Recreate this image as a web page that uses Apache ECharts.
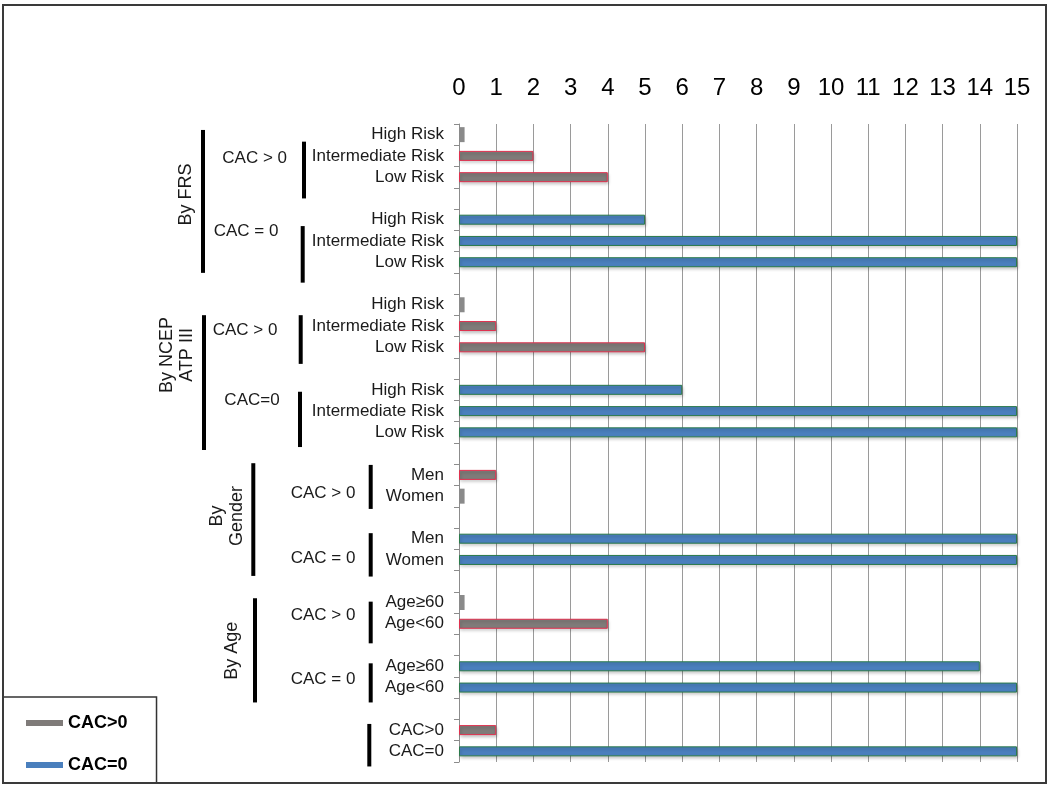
<!DOCTYPE html>
<html><head><meta charset="utf-8">
<script src="https://cdn.jsdelivr.net/npm/echarts@6/dist/echarts.min.js"></script>
<style>html,body{margin:0;padding:0;background:#fff}#c{width:1050px;height:793px}</style>
</head><body><div id="c"></div>
<script>
// Rows, top to bottom ('' = spacer rows)
const categories = [
  'High Risk','Intermediate Risk','Low Risk','',
  'High Risk','Intermediate Risk','Low Risk','',
  'High Risk','Intermediate Risk','Low Risk','',
  'High Risk','Intermediate Risk','Low Risk','',
  'Men','Women','',
  'Men','Women','',
  'Age≥60','Age<60','',
  'Age≥60','Age<60','',
  'CAC>0','CAC=0'
];
const cacPositive = [
  null,2,4,null,
  null,null,null,null,
  null,1,5,null,
  null,null,null,null,
  1,null,null,
  null,null,null,
  null,4,null,
  null,null,null,
  1,null
];
const cacZero = [
  null,null,null,null,
  5,15,15,null,
  null,null,null,null,
  6,15,15,null,
  null,null,null,
  15,15,null,
  null,null,null,
  14,15,null,
  null,15
];
// very small CAC>0 values drawn as stubs
const cacPositiveSmall = [
  0.15,null,null,null,
  null,null,null,null,
  0.15,null,null,null,
  null,null,null,null,
  null,0.15,null,
  null,null,null,
  0.15,null,null,
  null,null,null,
  null,null
];
const xTicks = [0,1,2,3,4,5,6,7,8,9,10,11,12,13,14,15];
const seriesNames = ['CAC>0','CAC=0'];

// Group annotations: [text, x, row position, rotated]
const groupLabels = [
  ['By FRS', 186, 2.81, true],
  ['By NCEP\nATP III', 177, 10.36, true],
  ['By\nGender', 227, 17.93, true],
  ['By Age', 232.5, 24.27, true],
  ['CAC > 0', 254.7, 1.1, false],
  ['CAC = 0', 246, 4.56, false],
  ['CAC > 0', 245, 9.18, false],
  ['CAC=0', 252, 12.48, false],
  ['CAC > 0', 323, 16.87, false],
  ['CAC = 0', 323, 19.92, false],
  ['CAC > 0', 323, 22.58, false],
  ['CAC = 0', 323, 25.6, false]
];
// Brackets: [x, row start, row end]
const brackets = [
  [203, -0.22, 6.5],
  [304, 0.33, 3.0],
  [302.7, 4.3, 6.96],
  [204, 8.49, 14.83],
  [300.7, 8.49, 10.78],
  [300, 12.09, 14.69],
  [253.3, 15.45, 20.75],
  [370.7, 15.53, 17.6],
  [370.7, 18.74, 20.78],
  [255, 21.8, 26.7],
  [370.7, 21.96, 23.92],
  [370.7, 24.86, 26.7],
  [369.3, 27.71, 29.71]
];

const FONT = '"Liberation Sans", Arial, sans-serif';
const chart = echarts.init(document.getElementById('c'), null, {renderer: 'canvas'});
const barShadow = {shadowColor: 'rgba(0,0,0,0.22)', shadowBlur: 3, shadowOffsetX: 1, shadowOffsetY: 2};

chart.setOption({
  animation: false,
  backgroundColor: '#fff',
  grid: {left: 459, right: 33, top: 124, bottom: 31, containLabel: false, outerBoundsMode: 'none'},
  xAxis: {
    type: 'value', position: 'top', min: 0, max: 15, interval: 1,
    axisLine: {show: false}, axisTick: {show: false},
    axisLabel: {
      show: true, margin: 24, fontSize: 24, color: '#000',
      fontFamily: '"Liberation Sans Narrow", "Liberation Sans", Arial, sans-serif',
      formatter: v => xTicks.indexOf(v) >= 0 ? String(v) : ''
    },
    splitLine: {show: true, lineStyle: {color: '#9a9a9a', width: 1}}
  },
  yAxis: [{
    type: 'category', inverse: true, data: categories,
    axisLine: {show: true, lineStyle: {color: '#8c8c8c', width: 1}},
    axisTick: {show: true, length: 5, interval: 0, lineStyle: {color: '#8c8c8c'}},
    axisLabel: {interval: 0, margin: 15, fontSize: 17, color: '#1a1a1a', fontFamily: FONT},
    splitLine: {show: false}
  }, {
    type: 'category', inverse: true, data: categories, show: false, gridIndex: 0
  }],
  legend: {
    orient: 'vertical', left: 3, top: 697, padding: [17, 29, 9, 23],
    itemGap: 24, itemWidth: 37, itemHeight: 6, icon: 'rect',
    borderColor: '#333', borderWidth: 1.5, backgroundColor: '#fff',
    textStyle: {fontFamily: FONT, fontSize: 18, fontWeight: 'bold', color: '#000'},
    itemStyle: {borderWidth: 0},
    data: seriesNames
  },
  series: [{
    name: seriesNames[0], type: 'bar', yAxisIndex: 0, data: cacPositive,
    barWidth: 10, barGap: '-100%',
    itemStyle: Object.assign({color: '#7f7b79', borderColor: '#e0304e', borderWidth: 1}, barShadow)
  }, {
    name: seriesNames[1], type: 'bar', yAxisIndex: 0, data: cacZero,
    barWidth: 10, barGap: '-100%',
    itemStyle: Object.assign({color: '#4a7fbd', borderColor: '#2a7a4a', borderWidth: 1}, barShadow)
  }, {
    name: 'small', type: 'bar', yAxisIndex: 1, data: cacPositiveSmall,
    barWidth: 15,
    itemStyle: {color: '#8a8a8a', borderWidth: 0}
  }]
});

const y0 = chart.convertToPixel({yAxisIndex: 0}, 0);
const h = chart.convertToPixel({yAxisIndex: 0}, 1) - y0;
const Y = f => y0 + f * h;
const elements = [];
elements.push({
  type: 'rect', z: 100, silent: true,
  shape: {x: 3, y: 5, width: 1043, height: 778},
  style: {fill: 'none', stroke: '#3a3a3a', lineWidth: 2}
});
brackets.forEach(b => elements.push({
  type: 'line', silent: true,
  shape: {x1: b[0], y1: Y(b[1]), x2: b[0], y2: Y(b[2])},
  style: {stroke: '#000', lineWidth: 4}
}));
groupLabels.forEach(g => elements.push({
  type: 'text', silent: true,
  x: g[1], y: Y(g[2]), rotation: g[3] ? Math.PI / 2 : 0,
  style: {text: g[0], font: (g[3] ? '18px ' : '17px ') + FONT, fill: '#1a1a1a', align: 'center', verticalAlign: 'middle', lineHeight: 20}
}));
chart.setOption({graphic: elements});
</script>
</body></html>
